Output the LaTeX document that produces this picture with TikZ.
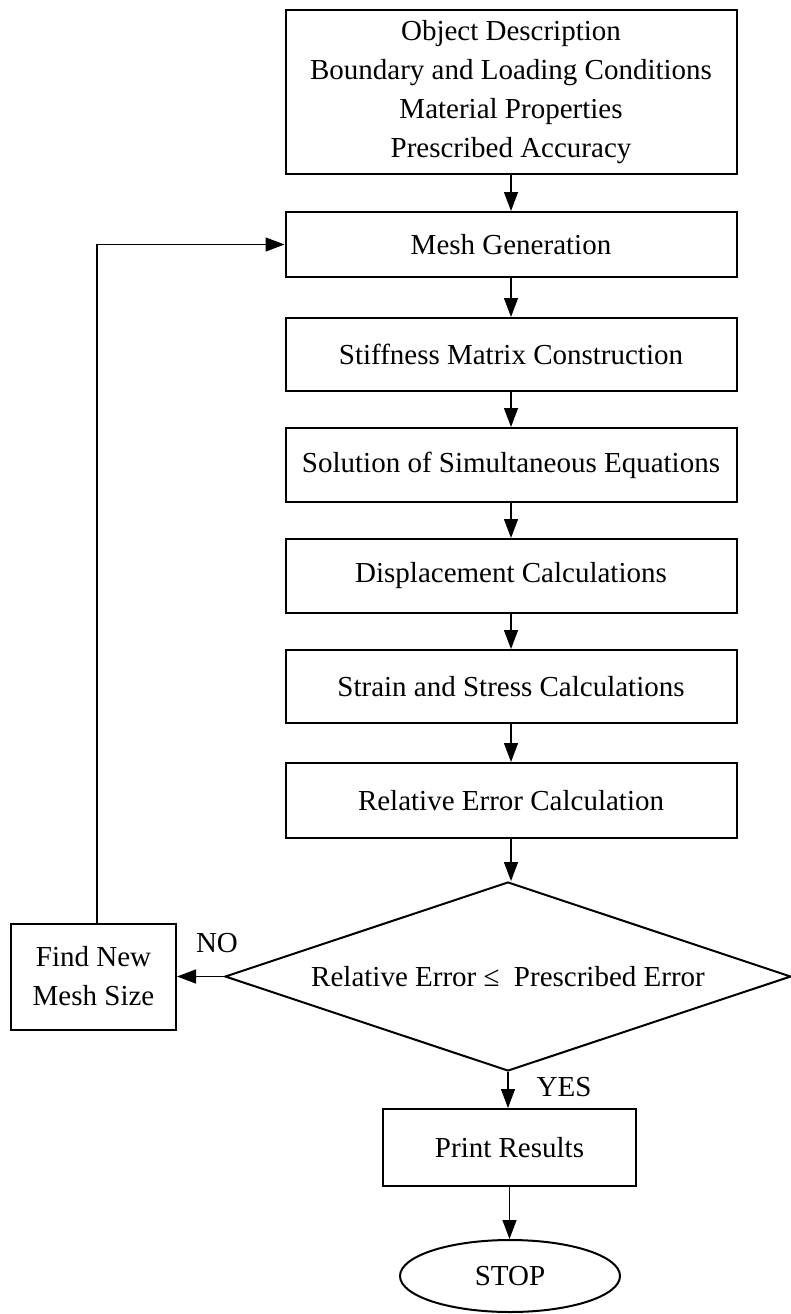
\documentclass[tikz,border=0pt]{standalone}
\usepackage{fontspec}
\setmainfont{Liberation Serif}
\usetikzlibrary{positioning, arrows.meta, shapes.geometric}

\begin{document}
\begin{tikzpicture}[
	x=1pt,
	y=-1pt,
	every block/.style={draw, line width=2pt, inner sep=0pt, align=center, font=\fontsize{29}{39}\selectfont},
	process box/.style={every block, rectangle, minimum width=451pt},
	decision/.style={every block, diamond, aspect=3, minimum width=566pt, minimum height=189pt},
	terminal/.style={every block, ellipse, minimum width=220pt, minimum height=72pt},
	label text/.style={font=\fontsize{29}{39}\selectfont, inner sep=0pt},
	>={Triangle[length=19pt, width=14pt]}
]
\useasboundingbox (0,0) rectangle (790,1314);

\node [process box, minimum height=164pt] (input) at (511,92)
	{Object Description\\ Boundary and Loading Conditions\\ Material Properties\\ Prescribed Accuracy};

\foreach \n/\y/\h/\t in {mesh/244.5/65/Mesh Generation,
		stiff/354.5/73/Stiffness Matrix Construction,
		solve/465/74/Solution of Simultaneous Equations,
		disp/576/74/Displacement Calculations,
		strain/686.5/73/Strain and Stress Calculations,
		relerr/800.5/75/Relative Error Calculation}
	\node [process box, minimum height=\h pt] (\n) at (511,\y) {\t};

\node [decision] (check) at (508,976.5) {Relative Error ≤\enspace Prescribed Error};

\node [every block, minimum width=165pt, minimum height=106pt] (findnew) at (93.5,976.5) {Find New\\ Mesh Size};

\node [every block, minimum width=253pt, minimum height=77pt] (print) at (509.5,1147.5) {Print Results};

\node [terminal] (stop) at (510,1276) {STOP};

\node [label text] (no) at (217,943) {NO};
\node [label text] (yes) at (564,1087) {YES};

\foreach \a/\b in {input/mesh, mesh/stiff, stiff/solve, solve/disp, disp/strain, strain/relerr}
	\draw [->, line width=1.3pt] (\a) -- (\b);

\draw [->, line width=1.3pt] (relerr.south) -- (relerr.south |- check.north);
\draw [->, line width=1.3pt] (check) -- (findnew);
\draw [->, line width=1.3pt] (check.south) -- (check.south |- print.north);
\draw [->, line width=1.3pt] (print.south) -- (print.south |- stop.north);
\draw [->, line width=1.3pt] (findnew.north -| 97,0) -- (97,244.5) -- (mesh.west);

\end{tikzpicture}
\end{document}
